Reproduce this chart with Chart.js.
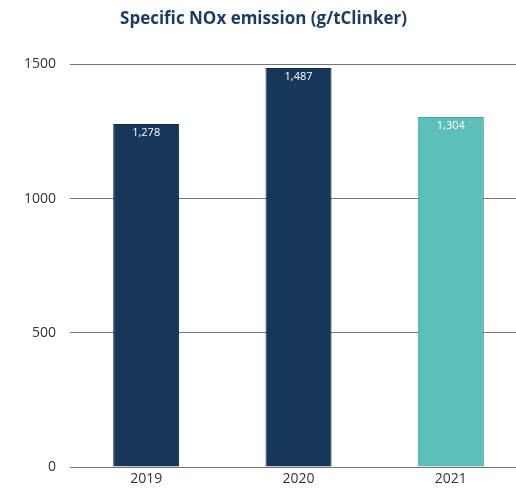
<!DOCTYPE html>
<html>
<head>
<meta charset="utf-8">
<script src="https://cdn.jsdelivr.net/npm/chart.js@4/dist/chart.umd.min.js"></script>
<style>
	html, body { margin: 0; padding: 0; background: #fff; overflow: hidden; width: 516px; height: 493px; }
	#wrap { width: 530px; height: 493px; position: relative; }
</style>
</head>
<body>
<div id="wrap"><canvas id="chart"></canvas></div>
<script>
const years = ['2019', '2020', '2021'];
const noxValues = [1278, 1487, 1304];
const barColors = ['#16365c', '#16365c', '#5cbfba'];
const barBorders = ['#0f2a4a', '#0f2a4a', '#4aa9a4'];
const yTicks = [0, 500, 1000, 1500];

const shadowPlugin = {
	id: 'barShadow',
	beforeDatasetsDraw(chart) {
		const ctx = chart.ctx;
		ctx.save();
		ctx.shadowColor = 'rgba(0, 0, 0, 0.16)';
		ctx.shadowBlur = 16;
		ctx.shadowOffsetX = 12;
		ctx.shadowOffsetY = 4;
	},
	afterDatasetsDraw(chart) {
		chart.ctx.restore();
	}
};

const valueLabels = {
	id: 'valueLabels',
	afterDatasetsDraw(chart) {
		const ctx = chart.ctx;
		const meta = chart.getDatasetMeta(0);
		ctx.save();
		ctx.fillStyle = '#ffffff';
		ctx.font = '11px "Open Sans", sans-serif';
		ctx.textAlign = 'center';
		ctx.textBaseline = 'top';
		meta.data.forEach((bar, i) => {
			ctx.fillText(noxValues[i].toLocaleString('en-US'), bar.x, bar.y + 3);
		});
		ctx.restore();
	}
};

new Chart(document.getElementById('chart'), {
	type: 'bar',
	data: {
		labels: years,
		datasets: [{
			data: noxValues,
			backgroundColor: barColors,
			borderColor: barBorders,
			borderWidth: 1,
			barPercentage: 0.433,
			categoryPercentage: 1
		}]
	},
	options: {
		responsive: true,
		maintainAspectRatio: false,
		animation: false,
		layout: {
			padding: { left: 0, right: 3, top: 0, bottom: 0 }
		},
		scales: {
			x: {
				grid: { display: false, drawTicks: false },
				border: { display: true, color: '#777777', width: 1 },
				ticks: {
					color: '#333333',
					padding: 4,
					font: { family: '"Open Sans", sans-serif', size: 14 }
				},
				afterFit(scale) { scale.height = 26; }
			},
			y: {
				min: 0,
				max: 1500,
				afterBuildTicks(scale) {
					scale.ticks = yTicks.map(v => ({ value: v }));
				},
				grid: { color: '#777777', lineWidth: 1, drawTicks: false },
				border: { display: false },
				ticks: {
					color: '#333333',
					padding: 14,
					font: { family: '"Open Sans", sans-serif', size: 14 },
					callback: (value) => String(value)
				},
				afterFit(scale) { scale.width = 70; }
			}
		},
		plugins: {
			legend: { display: false },
			tooltip: { enabled: false },
			title: {
				display: true,
				text: 'Specific NOx emission (g/tClinker)',
				color: '#1d3a5f',
				align: 'center',
				font: { family: '"Open Sans", sans-serif', size: 17, weight: 'bold' },
				padding: { top: 9, bottom: 35 },
				fullSize: true
			}
		}
	},
	plugins: [shadowPlugin, valueLabels]
});
</script>
</body>
</html>
